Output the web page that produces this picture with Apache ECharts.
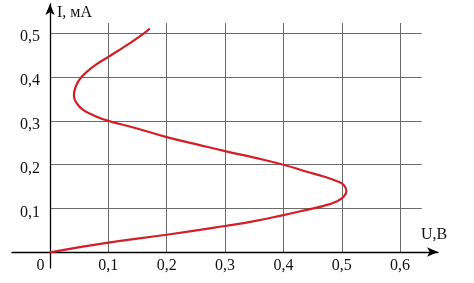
<!DOCTYPE html>
<html>
<head>
<meta charset="utf-8">
<script src="https://cdn.jsdelivr.net/npm/echarts@6/dist/echarts.min.js"></script>
<style>html,body{margin:0;padding:0;background:#fff}#c{width:474px;height:283px}</style>
</head>
<body>
<div id="c"></div>
<script>
// Voltage U (V) and current I (mA) along the curve, in drawing order
var uValues = [0, 0.1, 0.2, 0.3, 0.35, 0.4, 0.44, 0.469, 0.491, 0.503, 0.508, 0.503, 0.491, 0.469, 0.44, 0.4, 0.35, 0.3, 0.25, 0.2, 0.143, 0.1, 0.074, 0.057, 0.046, 0.041, 0.044, 0.054, 0.074, 0.1, 0.133, 0.161, 0.171];
var iValues = [0, 0.022, 0.04, 0.06, 0.071, 0.085, 0.097, 0.106, 0.116, 0.127, 0.14, 0.154, 0.163, 0.173, 0.184, 0.2, 0.216, 0.231, 0.247, 0.263, 0.285, 0.3, 0.313, 0.325, 0.34, 0.358, 0.378, 0.4, 0.424, 0.446, 0.474, 0.5, 0.511];
var xTickLabels = ['0', '0,1', '0,2', '0,3', '0,4', '0,5', '0,6'];
var yTickLabels = ['0', '0,1', '0,2', '0,3', '0,4', '0,5'];
var xName = 'U,B';
var yName = 'I, мА';

var points = uValues.map(function (u, k) { return [u, iValues[k]]; });
var FONT = 'Liberation Serif';
function tickIndex(v) {
  var r = Math.round(v * 10);
  return Math.abs(v * 10 - r) < 1e-6 ? r : -1;
}

var chart = echarts.init(document.getElementById('c'), null, {renderer: 'canvas'});
chart.setOption({
  animation: false,
  backgroundColor: '#fff',
  textStyle: {fontFamily: FONT},
  title: [
    {text: yName, left: 57, top: 5, padding: 0, textStyle: {fontFamily: FONT, fontSize: 16, fontWeight: 'normal', color: '#111'}},
    {text: xName, left: 421, top: 227, padding: 0, textStyle: {fontFamily: FONT, fontSize: 16, fontWeight: 'normal', color: '#111'}}
  ],
  grid: [
    {left: 50, right: 52.3, top: 23, bottom: 30.7},
    {left: 12, right: 36, top: 0, bottom: 31},
    {left: 50, right: 10, top: 4, bottom: 15}
  ],
  xAxis: [
    {
      type: 'value', gridIndex: 0, min: 0, max: 0.637, interval: 0.1,
      axisLine: {show: false}, axisTick: {show: false},
      splitLine: {show: true, showMinLine: false, showMaxLine: false, lineStyle: {color: '#6a6a6a', width: 1}},
      axisLabel: {
        margin: 5, fontFamily: FONT, fontSize: 16, color: '#111',
        formatter: function (v) {
          var k = tickIndex(v);
          if (k < 0 || k >= xTickLabels.length) return '';
          if (k === 0) return '{z|' + xTickLabels[0] + '}';
          return xTickLabels[k];
        },
        rich: {z: {fontFamily: FONT, fontSize: 16, color: '#111', padding: [0, 19, 0, 0]}}
      }
    },
    {
      type: 'value', gridIndex: 1, min: 0, max: 1,
      axisLine: {show: true, symbol: ['none', 'arrow'], symbolSize: [7, 11], lineStyle: {color: '#000', width: 1.3}},
      axisTick: {show: false}, axisLabel: {show: false}, splitLine: {show: false}
    },
    {type: 'value', gridIndex: 2, min: 0, max: 1, show: false}
  ],
  yAxis: [
    {
      type: 'value', gridIndex: 0, min: 0, max: 0.5235, interval: 0.1,
      axisLine: {show: false}, axisTick: {show: false},
      splitLine: {show: true, showMinLine: false, showMaxLine: false, lineStyle: {color: '#6a6a6a', width: 1}},
      axisLabel: {
        margin: 10, fontFamily: FONT, fontSize: 16, color: '#111',
        formatter: function (v) {
          var k = tickIndex(v);
          if (k <= 0 || k >= yTickLabels.length) return '';
          return '{t|' + yTickLabels[k] + '}';
        },
        rich: {t: {fontFamily: FONT, fontSize: 16, color: '#111', padding: [8, 0, 0, 0]}}
      }
    },
    {type: 'value', gridIndex: 1, min: 0, max: 1, show: false},
    {
      type: 'value', gridIndex: 2, min: 0, max: 1,
      axisLine: {show: true, symbol: ['none', 'arrow'], symbolSize: [7, 11], lineStyle: {color: '#000', width: 1.3}},
      axisTick: {show: false}, axisLabel: {show: false}, splitLine: {show: false}
    }
  ],
  series: [{
    type: 'line', xAxisIndex: 0, yAxisIndex: 0,
    data: points, smooth: 0.5, showSymbol: false, clip: false,
    lineStyle: {color: '#d21f26', width: 2.2}
  }]
});
</script>
</body>
</html>
